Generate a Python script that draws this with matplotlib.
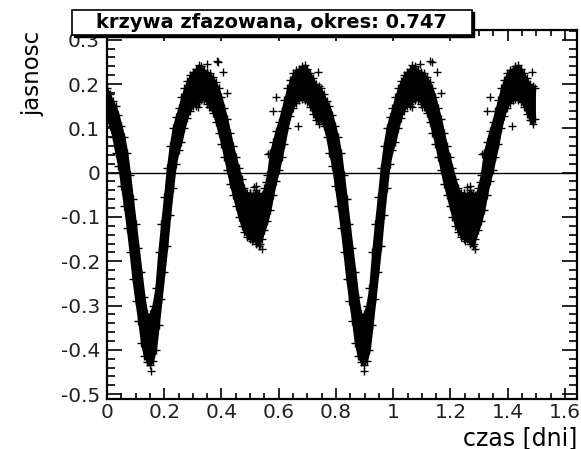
import numpy as np
import matplotlib
matplotlib.use("Agg")
import matplotlib.pyplot as plt
from matplotlib.patches import Rectangle
from matplotlib.ticker import MultipleLocator, FuncFormatter

plt.rcParams['font.family'] = ['DejaVu Sans']
plt.rcParams['axes.unicode_minus'] = False

# ---- data (one phased cycle) ----
period = 0.747
phase = [0.00, 0.01, 0.02, 0.03, 0.04, 0.05, 0.06, 0.07, 0.08, 0.09,
         0.10, 0.11, 0.12, 0.13, 0.14, 0.15, 0.16, 0.17, 0.18, 0.19,
         0.20, 0.21, 0.22, 0.23, 0.24, 0.25, 0.26, 0.27, 0.28, 0.29,
         0.30, 0.31, 0.32, 0.33, 0.34, 0.35, 0.36, 0.37, 0.38, 0.39,
         0.40, 0.41, 0.42, 0.43, 0.44, 0.45, 0.46, 0.47, 0.48, 0.49,
         0.50, 0.51, 0.52, 0.53, 0.54, 0.55, 0.56, 0.57, 0.58, 0.59,
         0.60, 0.61, 0.62, 0.63, 0.64, 0.65, 0.66, 0.67, 0.68, 0.69,
         0.70, 0.71, 0.72, 0.73, 0.74]
upper = [0.190, 0.178, 0.162, 0.150, 0.130, 0.105, 0.080, 0.045, -0.005, -0.060,
         -0.115, -0.170, -0.225, -0.280, -0.320, -0.318, -0.300, -0.260, -0.180, -0.115,
         -0.055, 0.010, 0.060, 0.100, 0.125, 0.145, 0.170, 0.190, 0.207, 0.220,
         0.228, 0.235, 0.243, 0.240, 0.232, 0.228, 0.224, 0.216, 0.205, 0.190,
         0.170, 0.145, 0.120, 0.090, 0.060, 0.035, 0.010, -0.015, -0.035, -0.045,
         -0.045, -0.050, -0.040, -0.045, -0.050, -0.035, -0.005, 0.045, 0.070, 0.095,
         0.115, 0.140, 0.165, 0.190, 0.210, 0.224, 0.232, 0.235, 0.240, 0.243,
         0.235, 0.224, 0.213, 0.200, 0.195]
lower = [0.120, 0.105, 0.080, 0.045, 0.015, -0.030, -0.075, -0.125, -0.180, -0.240,
         -0.290, -0.335, -0.385, -0.415, -0.428, -0.435, -0.425, -0.400, -0.345, -0.285,
         -0.225, -0.165, -0.095, -0.035, 0.020, 0.050, 0.070, 0.100, 0.124, 0.140,
         0.150, 0.156, 0.160, 0.163, 0.165, 0.156, 0.148, 0.135, 0.115, 0.090,
         0.065, 0.035, 0.005, -0.025, -0.050, -0.075, -0.100, -0.120, -0.135, -0.145,
         -0.150, -0.150, -0.160, -0.165, -0.150, -0.130, -0.110, -0.085, -0.050, -0.020,
         0.005, 0.035, 0.065, 0.100, 0.128, 0.146, 0.158, 0.163, 0.167, 0.163,
         0.160, 0.148, 0.133, 0.118, 0.110]
# scattered single measurements (phase, brightness)
out_phase = [0.152, 0.348, 0.389, 0.406, 0.319, 0.355, 0.418, 0.420, 0.592, 0.581,
             0.563, 0.557, 0.512, 0.500, 0.522, 0.546, 0.668, 0.738, 0.569, 0.534,
             0.540, 0.383, 0.505, 0.310]
out_y = [-0.447, 0.246, 0.250, 0.228, 0.148, 0.148, 0.068, 0.180, 0.170, 0.140,
         0.042, -0.022, -0.033, -0.045, -0.030, -0.048, 0.106, 0.227, 0.042, -0.160,
         -0.172, 0.252, -0.155, 0.150]

xticks_major, xticks_minor = 0.2, 0.05
yticks_major, yticks_minor = 0.1, 0.02

# ---- figure ----
W, H = 581, 449
fig = plt.figure(figsize=(W / 100, H / 100), dpi=100)
ax = fig.add_axes([107 / W, 1 - 399 / H, 470 / W, 369 / H])

ph = np.array(phase)
up = np.array(upper)
lo = np.array(lower)
x_all = np.concatenate([ph, ph + period, [2 * period]])
up_all = np.concatenate([up, up, [up[0]]])
lo_all = np.concatenate([lo, lo, [lo[0]]])

ax.axhline(0, color='black', lw=1.0, zorder=1)
ax.fill_between(x_all, lo_all, up_all, color='black', lw=1.2, zorder=2)
mk = dict(marker='+', ls='none', color='black', ms=6, mew=1.0, zorder=3)
ax.plot(x_all, up_all, **mk)
ax.plot(x_all, lo_all, **mk)
op = np.array(out_phase)
oy = np.array(out_y)
ax.plot(np.concatenate([op, op + period]), np.concatenate([oy, oy]), **mk)

ax.set_xlim(0, 1.642)
ax.set_ylim(-0.511, 0.322)

ax.xaxis.set_major_locator(MultipleLocator(xticks_major))
ax.xaxis.set_minor_locator(MultipleLocator(xticks_minor))
ax.yaxis.set_major_locator(MultipleLocator(yticks_major))
ax.yaxis.set_minor_locator(MultipleLocator(yticks_minor))
fmt = FuncFormatter(lambda v, p: f"{round(v, 3):g}" if abs(v) > 1e-9 else "0")
ax.xaxis.set_major_formatter(fmt)
ax.yaxis.set_major_formatter(fmt)

ax.tick_params(which='both', direction='in', top=True, right=True, width=1.2,
               labelsize=14.5, labelcolor='#222222')
ax.tick_params(axis='x', which='major', length=8, pad=3)
ax.tick_params(axis='x', which='minor', length=4.5)
ax.tick_params(axis='y', which='major', length=11, pad=5)
ax.tick_params(axis='y', which='minor', length=6)
for s in ax.spines.values():
    s.set_linewidth(1.6)

# axis titles
fig.text(577 / W, 1 - 438 / H, 'czas [dni]', ha='right', va='center', fontsize=17)
fig.text(33 / W, 1 - 31 / H, 'jasnosc', rotation=90, ha='center', va='top', fontsize=16.5)

# title box with shadow
bx0, bx1, by0, by1 = 72, 472, 10, 35
fig.add_artist(Rectangle((bx0 / W + 2 / W, 1 - by1 / H - 2 / H), (bx1 - bx0) / W, (by1 - by0) / H,
                         transform=fig.transFigure, facecolor='black', edgecolor='black', lw=1, zorder=5))
fig.add_artist(Rectangle((bx0 / W, 1 - by1 / H), (bx1 - bx0) / W, (by1 - by0) / H,
                         transform=fig.transFigure, facecolor='white', edgecolor='black', lw=1.2, zorder=6))
fig.text((bx0 + bx1) / 2 / W, 1 - (by0 + by1) / 2 / H, 'krzywa zfazowana, okres: 0.747',
         ha='center', va='center', fontsize=14, fontweight='bold', zorder=7)

fig.savefig('out.png', dpi=100)
